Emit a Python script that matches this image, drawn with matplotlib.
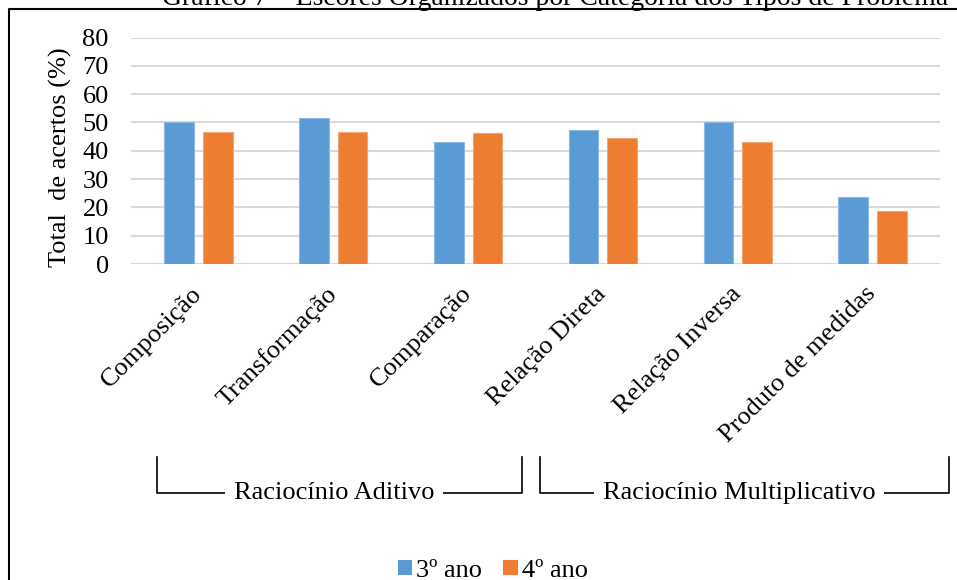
import numpy as np
import matplotlib
matplotlib.use('Agg')
import matplotlib.pyplot as plt
from matplotlib.lines import Line2D
from matplotlib.patches import Patch
import matplotlib.transforms as mtransforms

plt.rcParams['font.family'] = ['Liberation Serif', 'DejaVu Serif']

categorias = ['Composição', 'Transformação', 'Comparação',
              'Relação Direta', 'Relação Inversa', 'Produto de medidas']
ano3 = [50.2, 51.7, 43.2, 47.5, 50.2, 23.6]
ano4 = [46.7, 46.7, 46.2, 44.6, 43.2, 18.7]
series = ['3º ano', '4º ano']
cores = ['#5B9BD5', '#ED7D31']

grupos = ['Raciocínio Aditivo', 'Raciocínio Multiplicativo']
grupo_lim = [(-0.31, 2.40), (2.53, 5.57)]

titulo = 'Gráfico 7 – Escores Organizados por Categoria dos Tipos de Problema'

fs = 19

fig = plt.figure(figsize=(9.57, 5.8), dpi=100)
ax = fig.add_axes([0.1369, 0.5448, 0.8453, 0.3905])

x = np.arange(len(categorias))
w = 0.22
ax.bar(x - 0.143, ano3, w, color=cores[0], edgecolor='#8DB9E3', linewidth=0.8, zorder=3)
ax.bar(x + 0.143, ano4, w, color=cores[1], edgecolor='#F4A574', linewidth=0.8, zorder=3)

ax.set_ylim(0, 80)
ax.set_xlim(-0.5, len(categorias) - 0.5)
ax.set_yticks(np.arange(0, 81, 10))
ax.yaxis.grid(True, color='#D9D9D9', linewidth=1.5, zorder=0)
ax.set_axisbelow(True)
for s in ax.spines.values():
    s.set_visible(False)
ax.tick_params(axis='y', length=0, pad=16, labelsize=fs)
ax.tick_params(axis='x', length=0, pad=19, labelsize=fs)
ax.set_xticks(x)
ax.set_xticklabels(categorias, rotation=45, ha='right', va='center',
                   rotation_mode='anchor')

ax.set_ylabel('Total  de acertos (%)', fontsize=fs)
ax.yaxis.set_label_coords(-0.073, 0.472)

# colchetes dos grupos
trans = mtransforms.blended_transform_factory(ax.transData, ax.transAxes)
y_top, y_bot = -0.852, -1.011
for nome, (a, b) in zip(grupos, grupo_lim):
    ax.add_line(Line2D([a, a, b, b], [y_top, y_bot, y_bot, y_top], color='black',
                       linewidth=1.2, transform=trans, clip_on=False))
    ax.text((a + b) / 2 - 0.04, y_bot, nome, transform=trans, ha='center', va='center',
            fontsize=fs, bbox=dict(facecolor='white', edgecolor='none', pad=6))

# legenda
handles = [Patch(facecolor=c, edgecolor='none') for c in cores]
fig.legend(handles, series, loc='center', bbox_to_anchor=(0.515, 0.016), ncol=2,
           frameon=False, fontsize=fs, handlelength=0.55, handleheight=0.55,
           handletextpad=0.15, columnspacing=0.8)

# título cortado e moldura
fig.text(0.58, 1 - 5 / 580, titulo, ha='center', va='baseline', fontsize=fs + 1)
fig.add_artist(Line2D([9 / 957, 9 / 957, 1.0], [0.0, 1 - 9 / 580, 1 - 9 / 580],
                      color='black', linewidth=1.5, transform=fig.transFigure))

plt.savefig('out.png', dpi=100)
